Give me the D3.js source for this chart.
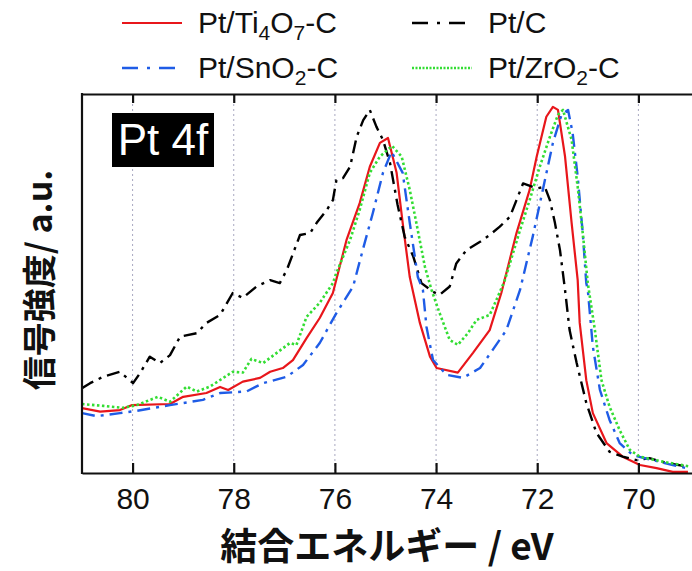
<!DOCTYPE html>
<html>
<head>
<meta charset="utf-8">
<script src="https://cdn.jsdelivr.net/npm/d3@7"></script>
<style>
  body { margin: 0; background: #fff; }
  svg { display: block; }
</style>
</head>
<body>
<div id="chart"></div>
<script>
// binding energy (eV) vs intensity (a.u., 0-100)
const ptTi4O7 = [
  [81.00,17.1],[80.64,16.2],[80.25,16.6],[80.02,17.9],[79.26,18.2],[79.00,20.1],[78.54,21.1],
  [78.27,22.7],[78.11,21.9],[77.82,24.1],[77.48,25.1],[77.28,26.7],[77.03,27.7],[76.83,29.8],
  [76.56,35.6],[76.30,40.9],[76.04,47.5],[75.77,61.5],[75.51,71.2],[75.31,80.8],[75.11,87.1],
  [74.95,88.4],[74.78,79.2],[74.66,66.0],[74.52,51.7],[74.32,39.6],[74.12,30.7],[73.99,27.7],
  [73.57,26.5],[73.27,31.7],[72.94,37.7],[72.71,47.5],[72.41,63.3],[72.15,74.7],[72.01,83.5],
  [71.82,94.0],[71.69,96.6],[71.59,95.8],[71.45,83.5],[71.32,66.0],[71.20,50.9],[71.16,39.6],
  [71.03,24.5],[70.90,15.8],[70.63,7.9],[70.31,4.3],[69.97,2.1],[69.64,1.3],[69.32,0.3],[69.02,0.3]
];
const ptC = [
  [81.00,22.4],[80.84,23.7],[80.58,25.4],[80.25,26.7],[79.99,23.7],[79.85,26.4],[79.66,30.7],
  [79.46,29.0],[79.26,31.1],[79.06,36.0],[78.73,36.9],[78.54,39.6],[78.27,41.7],[78.02,47.5],
  [77.82,46.2],[77.55,49.2],[77.28,50.9],[77.09,50.1],[76.95,53.6],[76.69,62.8],[76.49,63.3],
  [76.36,66.0],[76.16,69.4],[76.04,72.0],[75.97,77.3],[75.84,77.8],[75.70,80.8],[75.57,88.7],
  [75.44,93.1],[75.31,95.8],[75.18,91.4],[75.05,87.9],[74.91,81.8],[74.76,70.7],[74.62,62.3],
  [74.45,57.1],[74.29,50.1],[74.06,47.8],[73.93,47.0],[73.73,49.2],[73.60,55.3],[73.40,58.8],
  [73.13,61.0],[72.94,62.8],[72.74,65.0],[72.54,67.6],[72.41,72.0],[72.28,76.4],[72.01,75.1],
  [71.85,75.5],[71.75,72.0],[71.65,66.0],[71.55,58.8],[71.45,48.3],[71.36,37.7],[71.22,29.0],
  [71.03,18.5],[70.83,10.6],[70.57,5.6],[70.31,4.3],[70.04,3.4],[69.78,3.9],[69.44,2.6],[69.02,1.7]
];
const ptSnO2 = [
  [81.00,15.8],[80.71,15.0],[80.25,15.8],[79.92,16.4],[79.26,17.9],[78.61,19.3],[78.27,21.1],
  [77.75,21.5],[77.42,23.7],[76.95,25.4],[76.63,28.5],[76.30,34.3],[75.97,42.2],[75.64,49.2],
  [75.45,58.8],[75.25,68.6],[75.05,79.2],[74.88,84.8],[74.66,79.2],[74.52,66.0],[74.36,51.7],
  [74.26,48.3],[74.19,38.6],[74.06,29.8],[73.79,25.9],[73.47,25.1],[73.13,27.7],[72.88,32.5],
  [72.61,37.7],[72.34,48.3],[72.09,62.3],[71.89,74.7],[71.69,87.1],[71.52,94.5],[71.39,95.8],
  [71.30,89.7],[71.20,78.2],[71.10,63.3],[71.03,50.1],[71.00,48.3],[70.90,33.3],[70.76,21.9],
  [70.57,14.0],[70.37,7.9],[70.11,4.7],[69.72,3.4],[69.32,2.1],[69.02,1.2]
];
const ptZrO2 = [
  [81.00,18.2],[80.58,17.7],[80.19,17.2],[79.92,17.9],[79.50,20.1],[79.26,18.8],[78.93,22.8],
  [78.73,21.5],[78.47,22.8],[78.02,26.7],[77.82,26.5],[77.65,30.1],[77.42,29.0],[77.15,31.7],
  [76.89,34.3],[76.76,33.8],[76.56,41.2],[76.30,44.9],[76.04,50.1],[75.97,52.8],[75.70,61.5],
  [75.51,69.4],[75.31,79.2],[75.11,83.5],[74.87,86.3],[74.68,83.5],[74.52,74.7],[74.39,66.0],
  [74.22,54.4],[74.09,48.3],[73.93,42.2],[73.73,35.1],[73.57,33.8],[73.37,36.9],[73.20,40.4],
  [72.94,41.7],[72.78,46.5],[72.64,50.9],[72.34,64.1],[72.15,72.0],[71.95,80.8],[71.75,88.7],
  [71.59,94.5],[71.49,95.8],[71.32,87.9],[71.20,75.5],[71.10,63.3],[71.00,50.1],[70.86,37.7],
  [70.73,24.5],[70.57,17.5],[70.37,11.3],[70.17,6.1],[69.97,4.3],[69.52,3.0],[68.98,1.7]
];

const xTicks = [80, 78, 76, 74, 72, 70];

const series = [
  { name: "Pt/Ti4O7-C", data: ptTi4O7, color: "#e8161b", dash: null, legendDash: null, width: 2.2 },
  { name: "Pt/C", data: ptC, color: "#000000", dash: "13,6,3,6", legendDash: "16,9,3,9", width: 2.4 },
  { name: "Pt/SnO2-C", data: ptSnO2, color: "#1f5ce6", dash: "13,6,3,6", legendDash: "16,9,3,9", width: 2.4 },
  { name: "Pt/ZrO2-C", data: ptZrO2, color: "#33dd33", dash: "2.5,2.5", legendDash: "2,1.5", width: 2.6 }
];

const width = 692, height = 571;
const margin = { top: 94, right: 0, bottom: 98, left: 82 };

const svg = d3.select("#chart").append("svg")
  .attr("width", width)
  .attr("height", height);

const x = d3.scaleLinear().domain([81, 68.94]).range([margin.left, width]);
const y = d3.scaleLinear().domain([0, 100]).range([height - margin.bottom, margin.top]);

svg.append("defs").append("clipPath").attr("id", "plot-clip")
  .append("rect")
  .attr("x", margin.left).attr("y", margin.top)
  .attr("width", width - margin.left).attr("height", height - margin.bottom - margin.top);

// dotted grid
svg.append("g")
  .selectAll("line")
  .data(xTicks)
  .join("line")
  .attr("x1", d => x(d)).attr("x2", d => x(d))
  .attr("y1", margin.top).attr("y2", height - margin.bottom)
  .attr("stroke", "#a8a8c0")
  .attr("stroke-width", 1)
  .attr("stroke-dasharray", "2,3");

// curves
const line = d3.line().x(d => x(d[0])).y(d => y(d[1]));

svg.append("g")
  .attr("clip-path", "url(#plot-clip)")
  .selectAll("path")
  .data(series)
  .join("path")
  .attr("d", d => line(d.data))
  .attr("fill", "none")
  .attr("stroke", d => d.color)
  .attr("stroke-width", d => d.width)
  .attr("stroke-dasharray", d => d.dash)
  .attr("stroke-linejoin", "round");

// bottom axis
const xAxis = svg.append("g")
  .attr("transform", `translate(0,${height - margin.bottom})`)
  .call(d3.axisBottom(x).tickValues(xTicks).tickSizeInner(-10).tickSizeOuter(0).tickPadding(15));
xAxis.select(".domain").attr("stroke", "#111").attr("stroke-width", 2.2);
xAxis.selectAll(".tick line").attr("stroke", "#111").attr("stroke-width", 2.2);
xAxis.selectAll("text")
  .style("font-family", "'Liberation Sans', Arial, sans-serif")
  .style("font-size", "30px")
  .attr("fill", "#111");

// top axis (ticks only)
const topAxis = svg.append("g")
  .attr("transform", `translate(0,${margin.top})`)
  .call(d3.axisTop(x).tickValues(xTicks).tickSizeInner(-9).tickSizeOuter(0).tickFormat(""));
topAxis.select(".domain").attr("stroke", "#111").attr("stroke-width", 2.2);
topAxis.selectAll(".tick line").attr("stroke", "#111").attr("stroke-width", 2.2);

// left border
svg.append("line")
  .attr("x1", margin.left).attr("x2", margin.left)
  .attr("y1", margin.top - 1).attr("y2", height - margin.bottom + 1)
  .attr("stroke", "#111").attr("stroke-width", 2.2);

// Pt 4f label
svg.append("rect")
  .attr("x", 112).attr("y", 113).attr("width", 102).attr("height", 54)
  .attr("fill", "#000");
svg.append("text")
  .attr("x", 163).attr("y", 155)
  .attr("text-anchor", "middle")
  .style("font-family", "'Liberation Sans', Arial, sans-serif")
  .style("font-size", "44px")
  .attr("fill", "#fff")
  .text("Pt 4f");

// legend
const legendItems = [
  { s: series[0], parts: [["Pt/Ti"], ["4", 1], ["O"], ["7", 1], ["-C"]], lx: 122, ty: 23 },
  { s: series[1], parts: [["Pt/C"]], lx: 412, ty: 23 },
  { s: series[2], parts: [["Pt/SnO"], ["2", 1], ["-C"]], lx: 122, ty: 68 },
  { s: series[3], parts: [["Pt/ZrO"], ["2", 1], ["-C"]], lx: 412, ty: 68 }
];

const legend = svg.append("g")
  .style("font-family", "'Liberation Sans', Arial, sans-serif");

legendItems.forEach(item => {
  legend.append("line")
    .attr("x1", item.lx).attr("x2", item.lx + 60)
    .attr("y1", item.ty).attr("y2", item.ty)
    .attr("stroke", item.s.color)
    .attr("stroke-width", item.s.width)
    .attr("stroke-dasharray", item.s.legendDash);

  const t = legend.append("text")
    .attr("x", item.lx + 76)
    .attr("y", item.ty + 10)
    .style("font-size", "30px")
    .attr("fill", "#111");
  let prevSub = false;
  item.parts.forEach(p => {
    const ts = t.append("tspan").text(p[0]);
    if (p[1]) { ts.style("font-size", "21px").attr("dy", 7); prevSub = true; }
    else if (prevSub) { ts.attr("dy", -7); prevSub = false; }
  });
});

// axis titles
svg.append("text")
  .attr("x", 387).attr("y", 560)
  .attr("text-anchor", "middle")
  .style("font-family", "'Noto Sans CJK JP', sans-serif")
  .style("font-weight", "bold")
  .style("font-size", "37px")
  .attr("fill", "#111")
  .text("結合エネルギー / eV");

svg.append("text")
  .attr("transform", "translate(52,280) rotate(-90)")
  .attr("text-anchor", "middle")
  .style("font-family", "'Noto Sans CJK JP', sans-serif")
  .style("font-weight", "bold")
  .style("font-size", "34px")
  .attr("fill", "#111")
  .text("信号強度/ a.u.");
</script>
</body>
</html>
